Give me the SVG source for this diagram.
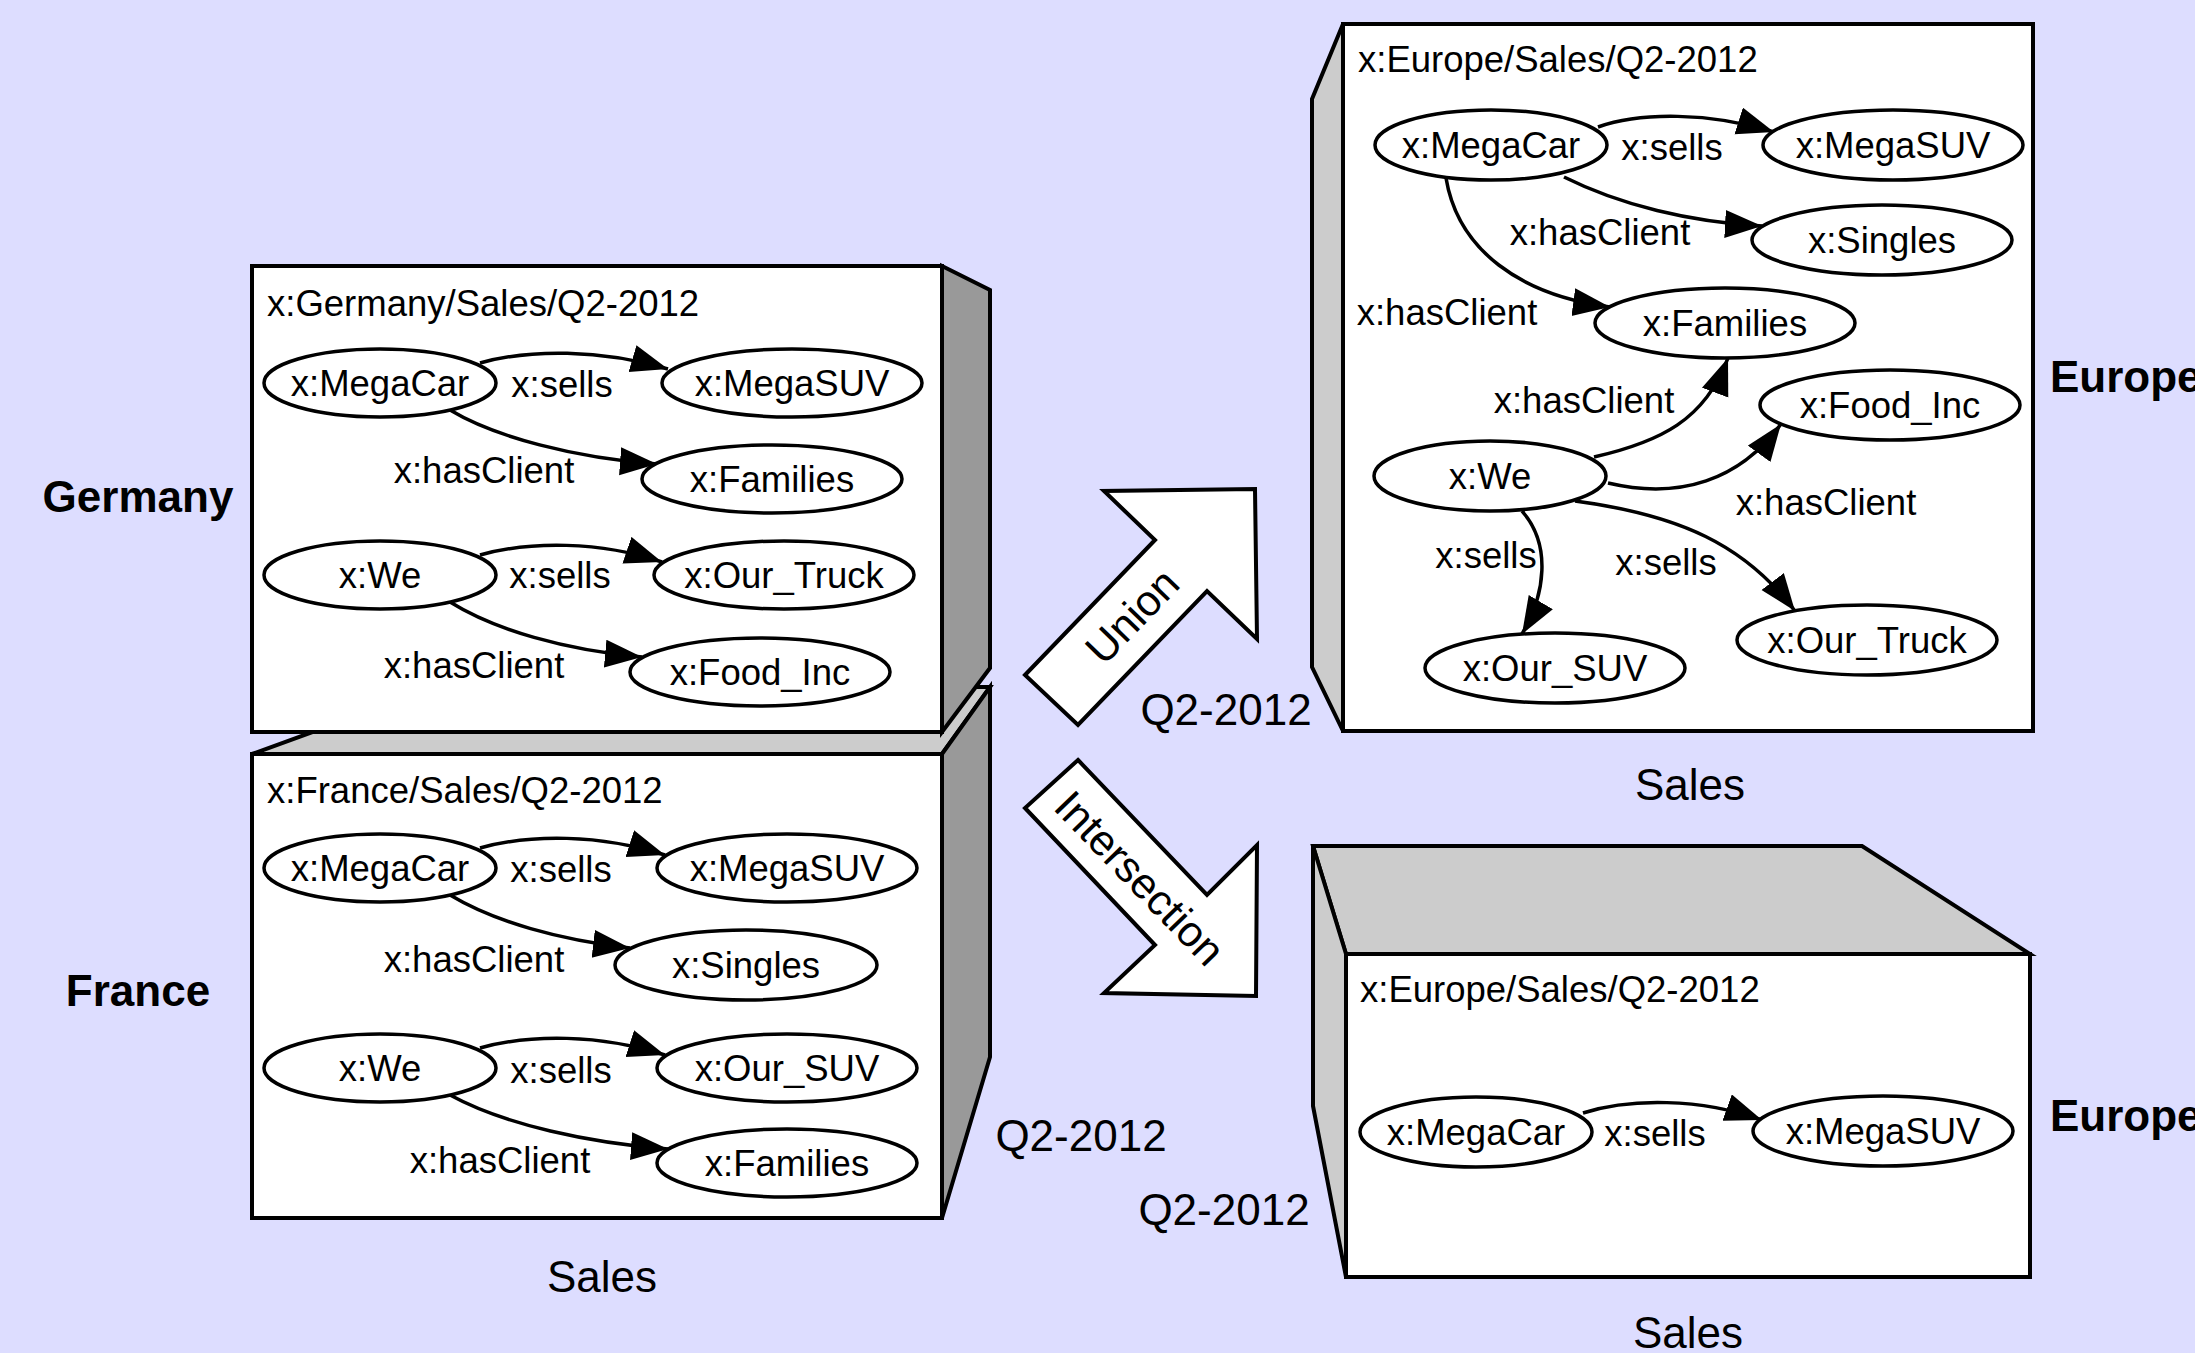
<svg xmlns="http://www.w3.org/2000/svg" width="2195" height="1353" viewBox="0 0 2195 1353">
<defs>
<style>
text{font-family:"Liberation Sans",Arial,sans-serif;fill:#000}
.face{fill:#fff;stroke:#000;stroke-width:4}
.dark{fill:#999;stroke:#000;stroke-width:4;stroke-linejoin:miter}
.light{fill:#ccc;stroke:#000;stroke-width:4;stroke-linejoin:miter}
.title{font-size:36.5px}
.nd ellipse{fill:#fff;stroke:#000;stroke-width:3.5}
.nd text{font-size:36.5px;text-anchor:middle}
.edge{fill:none;stroke:#000;stroke-width:3.5;marker-end:url(#ah)}
.el{font-size:36.5px;text-anchor:middle}
.axis{font-size:44px;text-anchor:middle}
.dim{font-size:44px;font-weight:bold;text-anchor:middle}
.blk{fill:#fff;stroke:#000;stroke-width:4;stroke-linejoin:miter}
.op{font-size:43px;text-anchor:middle}
</style>
<marker id="ah" markerUnits="userSpaceOnUse" markerWidth="40" markerHeight="30" refX="37" refY="14" orient="auto" viewBox="0 0 40 30">
<path d="M0,0 L37,14 L0,28 z" fill="#000"/>
</marker>
</defs>
<rect width="2195" height="1353" fill="#ddf"/>

<!-- France cube (drawn first, behind Germany) -->
<g id="cube-france">
<polygon class="light" points="252,754 436,687 990,687 942,754"/>
<polygon class="dark" points="942,754 990,687 990,1057 942,1218"/>
<rect class="face" x="252" y="754" width="690" height="464"/>
<text class="title" x="267" y="803">x:France/Sales/Q2-2012</text>
</g>
<!-- Germany cube -->
<g id="cube-germany">
<polygon class="dark" points="942,266 990,290 990,668 942,732"/>
<rect class="face" x="252" y="266" width="690" height="466"/>
<text class="title" x="267" y="316">x:Germany/Sales/Q2-2012</text>
</g>
<!-- Europe union cube -->
<g id="cube-europe-union">
<polygon class="light" points="1312,99 1343,24 1343,731 1312,667"/>
<rect class="face" x="1343" y="24" width="690" height="707"/>
<text class="title" x="1358" y="72">x:Europe/Sales/Q2-2012</text>
</g>
<!-- Europe intersection cube -->
<g id="cube-europe-intersection">
<polygon class="light" points="1313,846 1862,846 2030,954 1346,954"/>
<polygon class="light" points="1313,846 1346,954 1346,1277 1313,1106"/>
<rect class="face" x="1346" y="954" width="684" height="323"/>
<text class="title" x="1360" y="1002">x:Europe/Sales/Q2-2012</text>
</g>

<!-- Operation arrows -->
<g id="op-union">
<polygon class="blk" points="1025,675 1155,540 1104,491 1255,489 1257,639 1207,591 1078,725"/>
<text class="op" transform="translate(1132,616) rotate(-46)" y="15">Union</text>
</g>
<g id="op-intersection">
<polygon class="blk" points="1078,760 1207,895 1257,845 1256,996 1104,993 1155,945 1025,808"/>
<text class="op" transform="translate(1140,878) rotate(46)" y="15">Intersection</text>
</g>

<!-- Axis labels -->
<g id="labels">
<text class="dim" x="138" y="512">Germany</text>
<text class="dim" x="138" y="1006">France</text>
<text class="dim" x="2050" y="392" style="text-anchor:start">Europe</text>
<text class="dim" x="2050" y="1131" style="text-anchor:start">Europe</text>
<text class="axis" x="602" y="1292">Sales</text>
<text class="axis" x="1690" y="800">Sales</text>
<text class="axis" x="1688" y="1348">Sales</text>
<text class="axis" x="1081" y="1151">Q2-2012</text>
<text class="axis" x="1226" y="725">Q2-2012</text>
<text class="axis" x="1224" y="1225">Q2-2012</text>
</g>

<!-- Connectors -->
<g id="connectors">
<path class="edge" d="M480,363 C530,349 600,349 668,369"/>
<text class="el" x="562" y="397">x:sells</text>
<path class="edge" d="M450,410 C495,437 575,458 657,464"/>
<text class="el" x="484" y="483">x:hasClient</text>
<path class="edge" d="M480,555 C530,541 600,541 662,562"/>
<text class="el" x="560" y="588">x:sells</text>
<path class="edge" d="M450,602 C495,630 565,650 642,657"/>
<text class="el" x="474" y="678">x:hasClient</text>

<path class="edge" d="M480,848 C530,834 600,834 665,855"/>
<text class="el" x="561" y="882">x:sells</text>
<path class="edge" d="M450,895 C495,922 560,940 630,948"/>
<text class="el" x="474" y="972">x:hasClient</text>
<path class="edge" d="M480,1048 C530,1034 600,1034 665,1055"/>
<text class="el" x="561" y="1083">x:sells</text>
<path class="edge" d="M450,1095 C505,1125 590,1143 668,1149"/>
<text class="el" x="500" y="1173">x:hasClient</text>

<path class="edge" d="M1598,127 C1640,112 1710,112 1774,132"/>
<text class="el" x="1672" y="160">x:sells</text>
<path class="edge" d="M1564,177 C1620,205 1690,222 1762,226"/>
<text class="el" x="1600" y="245">x:hasClient</text>
<path class="edge" d="M1446,178 C1458,250 1520,295 1610,307"/>
<text class="el" x="1447" y="325">x:hasClient</text>
<path class="edge" d="M1594,457 C1660,442 1705,420 1728,358"/>
<text class="el" x="1584" y="413">x:hasClient</text>
<path class="edge" d="M1608,483 C1680,500 1740,480 1781,424"/>
<text class="el" x="1826" y="515">x:hasClient</text>
<path class="edge" d="M1522,511 C1552,545 1545,595 1522,634"/>
<text class="el" x="1486" y="568">x:sells</text>
<path class="edge" d="M1575,501 C1680,515 1745,545 1795,611"/>
<text class="el" x="1666" y="575">x:sells</text>

<path class="edge" d="M1583,1113 C1630,1098 1700,1098 1762,1120"/>
<text class="el" x="1655" y="1146">x:sells</text>
</g>

<!-- Germany nodes -->
<g id="g-megacar" class="nd"><ellipse cx="380" cy="383" rx="116" ry="34"/><text x="380" y="396">x:MegaCar</text></g>
<g id="g-megasuv" class="nd"><ellipse cx="792" cy="383" rx="130" ry="34"/><text x="792" y="396">x:MegaSUV</text></g>
<g id="g-families" class="nd"><ellipse cx="772" cy="479" rx="130" ry="34"/><text x="772" y="492">x:Families</text></g>
<g id="g-we" class="nd"><ellipse cx="380" cy="575" rx="116" ry="34"/><text x="380" y="588">x:We</text></g>
<g id="g-our-truck" class="nd"><ellipse cx="784" cy="575" rx="130" ry="34"/><text x="784" y="588">x:Our_Truck</text></g>
<g id="g-food-inc" class="nd"><ellipse cx="760" cy="672" rx="130" ry="34"/><text x="760" y="685">x:Food_Inc</text></g>

<!-- France nodes -->
<g id="f-megacar" class="nd"><ellipse cx="380" cy="868" rx="116" ry="34"/><text x="380" y="881">x:MegaCar</text></g>
<g id="f-megasuv" class="nd"><ellipse cx="787" cy="868" rx="130" ry="34"/><text x="787" y="881">x:MegaSUV</text></g>
<g id="f-singles" class="nd"><ellipse cx="746" cy="965" rx="131" ry="35"/><text x="746" y="978">x:Singles</text></g>
<g id="f-we" class="nd"><ellipse cx="380" cy="1068" rx="116" ry="34"/><text x="380" y="1081">x:We</text></g>
<g id="f-our-suv" class="nd"><ellipse cx="787" cy="1068" rx="130" ry="34"/><text x="787" y="1081">x:Our_SUV</text></g>
<g id="f-families" class="nd"><ellipse cx="787" cy="1163" rx="130" ry="34"/><text x="787" y="1176">x:Families</text></g>

<!-- Europe union nodes -->
<g id="u-megacar" class="nd"><ellipse cx="1491" cy="145" rx="116" ry="35"/><text x="1491" y="158">x:MegaCar</text></g>
<g id="u-megasuv" class="nd"><ellipse cx="1893" cy="145" rx="130" ry="35"/><text x="1893" y="158">x:MegaSUV</text></g>
<g id="u-singles" class="nd"><ellipse cx="1882" cy="240" rx="130" ry="35"/><text x="1882" y="253">x:Singles</text></g>
<g id="u-families" class="nd"><ellipse cx="1725" cy="323" rx="130" ry="35"/><text x="1725" y="336">x:Families</text></g>
<g id="u-food-inc" class="nd"><ellipse cx="1890" cy="405" rx="130" ry="35"/><text x="1890" y="418">x:Food_Inc</text></g>
<g id="u-we" class="nd"><ellipse cx="1490" cy="476" rx="116" ry="35"/><text x="1490" y="489">x:We</text></g>
<g id="u-our-suv" class="nd"><ellipse cx="1555" cy="668" rx="130" ry="35"/><text x="1555" y="681">x:Our_SUV</text></g>
<g id="u-our-truck" class="nd"><ellipse cx="1867" cy="640" rx="130" ry="35"/><text x="1867" y="653">x:Our_Truck</text></g>

<!-- Europe intersection nodes -->
<g id="i-megacar" class="nd"><ellipse cx="1476" cy="1132" rx="116" ry="35"/><text x="1476" y="1145">x:MegaCar</text></g>
<g id="i-megasuv" class="nd"><ellipse cx="1883" cy="1131" rx="130" ry="35"/><text x="1883" y="1144">x:MegaSUV</text></g>
</svg>
